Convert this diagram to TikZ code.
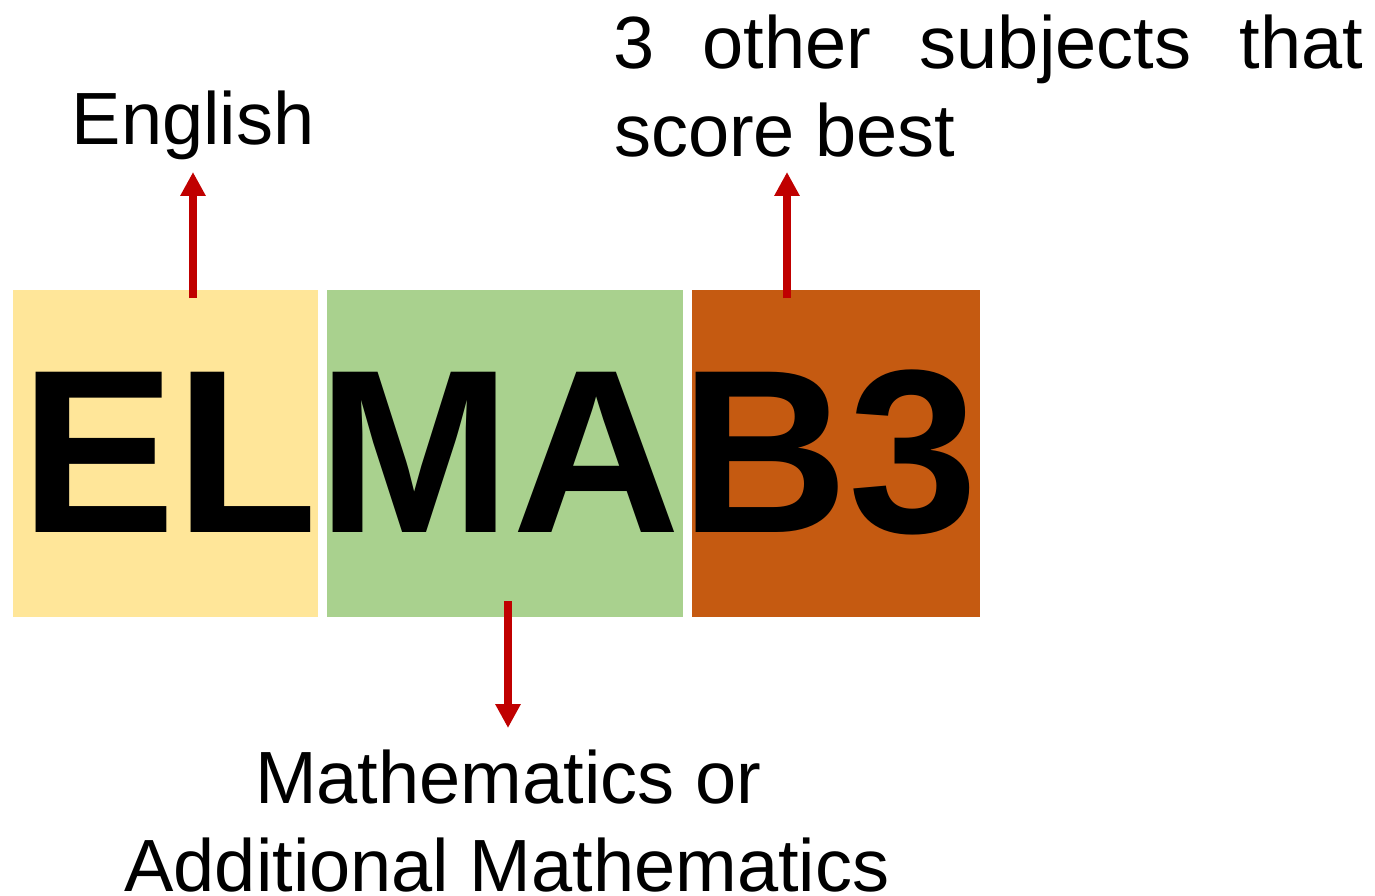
\documentclass[tikz,border=0pt]{standalone}
\usepackage{fontspec}
\setmainfont{Liberation Sans}
\usetikzlibrary{arrows.meta}
\definecolor{yelbox}{HTML}{FFE699}
\definecolor{grnbox}{HTML}{A9D18E}
\definecolor{orgbox}{HTML}{C55A11}
\definecolor{arrred}{HTML}{C00000}
\tikzset{
  colbox/.style={rectangle, draw=none, inner sep=0pt, minimum height=327pt},
  arr/.style={draw=arrred, line width=8pt, -{Triangle[length=24pt,width=24pt]}},
  lbl/.style={inner sep=0pt, font=\fontsize{74}{88}\selectfont},
  big/.style={inner sep=0pt, font=\fontsize{233}{233}\selectfont\bfseries}
}
\begin{document}
\begin{tikzpicture}[x=1pt,y=-1pt]
\useasboundingbox[fill=white] (0,0) rectangle (1375,896);
\node[colbox, fill=yelbox, minimum width=305pt] (boxE) at (165.5,453.5) {};
\node[colbox, fill=grnbox, minimum width=356pt] (boxM) at (505,453.5) {};
\node[colbox, fill=orgbox, minimum width=288pt] (boxB) at (836,453.5) {};
\node[big, anchor=base west] (letters) at (20,532) {ELMAB3};
\node[lbl, anchor=base] (eng) at (193,145) {English};
\node[lbl, anchor=base west] (oth1) at (613,69) {\hbox to 750pt{3\hfil other\hfil subjects\hfil that}};
\node[lbl, anchor=base west] (oth2) at (614,157) {score best};
\node[lbl, anchor=base] (math1) at (508,803) {Mathematics or};
\node[lbl, anchor=base] (math2) at (507,891) {Additional Mathematics};
\coordinate (e0) at (193,298);
\coordinate (e1) at (193,172);
\coordinate (b0) at (787,298);
\coordinate (b1) at (787,172);
\coordinate (m0) at (508,601);
\coordinate (m1) at (508,728);
\draw[arr] (e0) -- (e1);
\draw[arr] (b0) -- (b1);
\draw[arr] (m0) -- (m1);
\end{tikzpicture}
\end{document}
